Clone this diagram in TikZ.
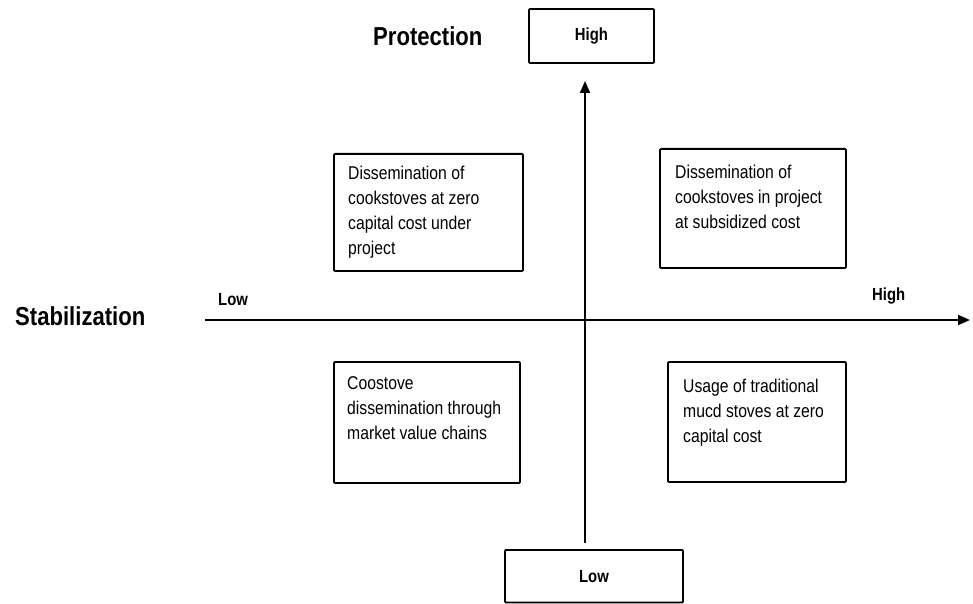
\documentclass[tikz,border=0pt]{standalone}
\usepackage{fontspec}
\setmainfont{Liberation Sans}[FakeStretch=0.85]
\usetikzlibrary{arrows.meta}
\begin{document}
\begin{tikzpicture}[x=1pt,y=-1pt,
  box/.style={draw,line width=1.9pt,rounded corners=1pt,inner sep=0pt},
  boxtext/.style={anchor=north west,align=left,inner sep=0pt,
    font=\fontsize{18.5}{25}\selectfont},
  axis/.style={line width=2pt,-{Triangle[length=12pt,width=10pt]}},
  small/.style={font=\fontsize{17.5}{20}\selectfont\bfseries},
  big/.style={font=\fontsize{26}{30}\selectfont\bfseries}]
  \useasboundingbox (0,0) rectangle (973,604);
  % axes
  \coordinate (vbot) at (585,543);
  \coordinate (vtop) at (585,81);
  \coordinate (hleft) at (205,320);
  \coordinate (hright) at (970,320);
  \draw[axis] (vbot) -- (vtop);
  \draw[axis] (hleft) -- (hright);
  \node[box,small,minimum width=125pt,minimum height=54pt] (high) at (591.5,36) {High};
  \node[box,small,minimum width=178pt,minimum height=52.5pt] (low) at (594,576.25) {Low};
  \node[big,anchor=base west,inner sep=0pt] (protection) at (373,46) {Protection};
  \node[big,anchor=base west,inner sep=0pt] (stabilization) at (15,325) {Stabilization};
  \node[small,anchor=base west,inner sep=0pt] (lowleft) at (218,305) {Low};
  \node[small,anchor=base west,inner sep=0pt] (highright) at (872,300) {High};
  % quadrants
  \node[box,anchor=north west,minimum width=189pt,minimum height=117pt] (tl) at (333,153) {};
  \node[boxtext] (tltext) at (348,166)
    {Dissemination of\\cookstoves at zero\\capital cost under\\project};
  \node[box,anchor=north west,minimum width=186pt,minimum height=119pt] (tr) at (659,148) {};
  \node[boxtext] (trtext) at (675,165)
    {Dissemination of\\cookstoves in project\\at subsidized cost};
  \node[box,anchor=north west,minimum width=186pt,minimum height=121pt] (bl) at (333,361) {};
  \node[boxtext] (bltext) at (347,376)
    {Coostove\\dissemination through\\market value chains};
  \node[box,anchor=north west,minimum width=178pt,minimum height=120pt] (br) at (667,361) {};
  \node[boxtext] (brtext) at (683,379)
    {Usage of traditional\\mucd stoves at zero\\capital cost};
\end{tikzpicture}
\end{document}
